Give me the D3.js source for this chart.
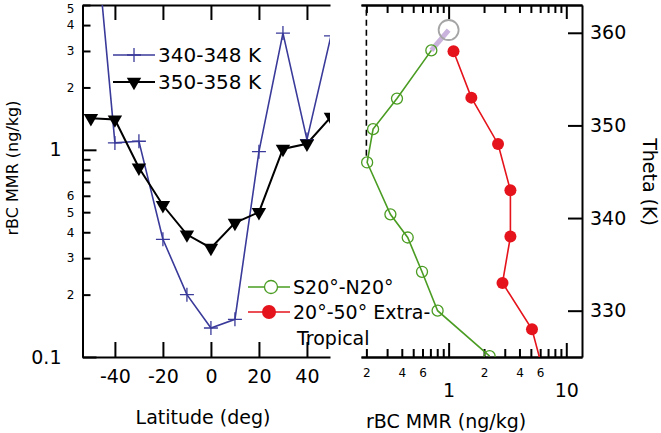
<!DOCTYPE html>
<html><head><meta charset="utf-8">
<script src="https://cdn.jsdelivr.net/npm/d3@7"></script>
<style>body{margin:0;background:#fff}svg{display:block}text{font-family:"DejaVu Sans",Verdana,sans-serif;fill:#000}</style>
</head><body><svg id="c" width="661" height="433"></svg>
<script>
// ---- Data ----
const latitudes = [-50,-40,-30,-20,-10,0,10,20,30,40,50];
const mmr340 = [20,1.08,1.1,0.37,0.2,0.138,0.152,0.98,3.66,1.12,3.55];
const mmr350 = [1.42,1.40,0.82,0.54,0.39,0.336,0.444,0.50,1.01,1.07,1.44];
const thetaTrop = [325.1,330,334.2,337.9,340.4,346,349.6,352.9,358.1];
const mmrTrop = [2.23,0.806,0.594,0.449,0.32,0.203,0.228,0.364,0.713];
const thetaExtra = [358,353,348,343,338,333,328,323];
const mmrExtra = [1.10,1.56,2.63,3.35,3.35,2.87,5.11,6.5];
const highPoint = {theta:360.3, mmr:1.0};
const latTicks = [-40,-20,0,20,40];
const leftMajor = [0.1,1];
const leftMinor = [0.2,0.3,0.4,0.5,0.6,0.7,0.8,0.9,2,3,4,5];
const leftMinorLabels = [0.2,0.3,0.4,0.5,0.6,2,3,4,5];
const rightMajor = [1,10];
const rightMinor = [0.2,0.3,0.4,0.5,0.6,0.7,0.8,0.9,2,3,4,5,6,7,8,9];
const rightMinorLabels = [0.2,0.4,0.6,2,4,6];
const thetaTicks = [330,340,350,360];
const seriesNames = ["340-348 K","350-358 K","S20°-N20°","20°-50° Extra-","Tropical"];

const svg = d3.select("#c");
const FS = 19, FSs = 12;
const blue="#3a3a9a", green="#4a9c22", red="#e5131b";

// ---- Scales ----
const xL = d3.scaleLinear().domain([-53.5,49.6]).range([82.5,330]);
const yL = d3.scaleLog().domain([0.1,5]).range([357,5]);
const xR = d3.scaleLog().domain([0.18,13.6]).range([361,582]);
const yR = d3.scaleLinear().domain([325,363]).range([357,5]);

const defs = svg.append("defs");
defs.append("clipPath").attr("id","clipL").append("rect").attr("x",82.5).attr("y",5).attr("width",330-82.5).attr("height",352);
defs.append("clipPath").attr("id","clipR").append("rect").attr("x",361).attr("y",5).attr("width",221).attr("height",352);

function styleAxis(g, fs){
  g.selectAll("path.domain").attr("stroke","#000").attr("stroke-width",2);
  g.selectAll(".tick line").attr("stroke","#000").attr("stroke-width",2);
  g.selectAll(".tick text").style("font-size",fs+"px").attr("font-family",null);
  g.attr("font-family",null).attr("font-size",null);
}
const minorFmt = d => { const e=Math.floor(Math.log10(d)+1e-9); return String(Math.round(d/Math.pow(10,e))); };

// ---- Left panel axes ----
let g;
g = svg.append("g").attr("transform","translate(82.5,0)")
  .call(d3.axisLeft(yL).tickValues(leftMinor).tickSizeInner(-8).tickSizeOuter(0).tickPadding(8)
    .tickFormat(d => leftMinorLabels.includes(d) ? minorFmt(d) : ""));
styleAxis(g, FSs);
g.selectAll(".tick text").filter(d => d===5).attr("dy","0.62em");
g = svg.append("g").attr("transform","translate(82.5,0)")
  .call(d3.axisLeft(yL).tickValues(leftMajor).tickSizeInner(-14).tickSizeOuter(0).tickPadding(21)
    .tickFormat(d => d===1 ? "1" : "0.1"));
styleAxis(g, FS);
g = svg.append("g").attr("transform","translate(0,357)")
  .call(d3.axisBottom(xL).tickValues(latTicks).tickSizeInner(-15).tickSizeOuter(0).tickPadding(13));
styleAxis(g, FS);
g.selectAll(".tick text").text(d => d<0 ? "-"+Math.abs(d) : d);
g = svg.append("g").attr("transform","translate(0,5)")
  .call(d3.axisTop(xL).tickValues(latTicks).tickSizeInner(-15).tickSizeOuter(0).tickFormat(""));
styleAxis(g, FS);

// ---- Right panel axes ----
g = svg.append("g").attr("transform","translate(0,357)")
  .call(d3.axisBottom(xR).tickValues(rightMinor).tickSizeInner(-8).tickSizeOuter(0).tickPadding(11)
    .tickFormat(d => rightMinorLabels.includes(d) ? minorFmt(d) : ""));
styleAxis(g, FSs);
g = svg.append("g").attr("transform","translate(0,357)")
  .call(d3.axisBottom(xR).tickValues(rightMajor).tickSizeInner(-14).tickSizeOuter(0).tickPadding(27)
    .tickFormat(d => String(d)));
styleAxis(g, FS);
g = svg.append("g").attr("transform","translate(0,5)")
  .call(d3.axisTop(xR).tickValues(rightMinor).tickSizeInner(-8).tickSizeOuter(0).tickFormat(""));
styleAxis(g, FS);
g = svg.append("g").attr("transform","translate(0,5)")
  .call(d3.axisTop(xR).tickValues(rightMajor).tickSizeInner(-14).tickSizeOuter(0).tickFormat(""));
styleAxis(g, FS);
g = svg.append("g").attr("transform","translate(582,0)")
  .call(d3.axisRight(yR).tickValues(thetaTicks).tickSizeInner(-14).tickSizeOuter(0).tickPadding(8));
styleAxis(g, FS);

// dashed reference at 0.2
svg.append("line").attr("x1",xR(0.2)).attr("x2",xR(0.2)).attr("y1",yR(362.5)).attr("y2",yR(346.3))
  .attr("stroke","#000").attr("stroke-width",1.6).attr("stroke-dasharray","6,4");

// ---- Axis titles ----
svg.append("text").attr("transform","translate(18,168) rotate(-90)").attr("text-anchor","middle")
  .style("font-size","16px").text("rBC MMR (ng/kg)");
svg.append("text").attr("x",203).attr("y",424).attr("text-anchor","middle").style("font-size",FS+"px").text("Latitude (deg)");
svg.append("text").attr("x",446).attr("y",428).attr("text-anchor","middle").style("font-size",FS+"px").text("rBC MMR (ng/kg)");
svg.append("text").attr("transform","translate(643,182) rotate(90)").attr("text-anchor","middle")
  .style("font-size",FS+"px").text("Theta (K)");

// ---- Left panel series ----
const L = svg.append("g").attr("clip-path","url(#clipL)");
const d340 = latitudes.map((x,i)=>({x, y:mmr340[i]}));
const d350 = latitudes.map((x,i)=>({x, y:mmr350[i]}));
const lineL = d3.line().x(d=>xL(d.x)).y(d=>yL(d.y));
L.append("path").datum(d340).attr("d",lineL).attr("fill","none").attr("stroke",blue).attr("stroke-width",1.6);
L.append("path").datum(d350).attr("d",lineL).attr("fill","none").attr("stroke","#000").attr("stroke-width",2);
function plusPath(cx,cy,s){return `M${cx-s},${cy}H${cx+s}M${cx},${cy-s}V${cy+s}`;}
L.selectAll(".p340").data(d340).join("path").attr("d",d=>plusPath(xL(d.x),yL(d.y),7))
  .attr("stroke",blue).attr("stroke-width",1.3).attr("fill","none");
const tri = d3.symbol().type(d3.symbolTriangle).size(90);
L.selectAll(".t350").data(d350).join("path").attr("d",tri)
  .attr("transform",d=>`translate(${xL(d.x)},${yL(d.y)}) rotate(180)`).attr("fill","#000");

// ---- Right panel series ----
const R = svg.append("g").attr("clip-path","url(#clipR)");
const dTrop = thetaTrop.map((t,i)=>({t, v:mmrTrop[i]}));
const dExtra = thetaExtra.map((t,i)=>({t, v:mmrExtra[i]}));
const lineR = d3.line().x(d=>xR(d.v)).y(d=>yR(d.t));
const last = dTrop[dTrop.length-1];
R.append("line").attr("x1",xR(last.v)).attr("y1",yR(last.t)).attr("x2",xR(highPoint.mmr)).attr("y2",yR(highPoint.theta))
  .attr("stroke","#c9b3dc").attr("stroke-width",5);
R.append("circle").attr("cx",xR(highPoint.mmr)).attr("cy",yR(highPoint.theta)).attr("r",10)
  .attr("fill","none").attr("stroke","#a5a5a5").attr("stroke-width",1.8);
R.append("path").datum(dTrop).attr("d",lineR).attr("fill","none").attr("stroke",green).attr("stroke-width",1.6);
R.append("path").datum(dExtra).attr("d",lineR).attr("fill","none").attr("stroke",red).attr("stroke-width",1.6);
R.selectAll(".ct").data(dTrop).join("circle").attr("cx",d=>xR(d.v)).attr("cy",d=>yR(d.t)).attr("r",5.5)
  .attr("fill","none").attr("stroke",green).attr("stroke-width",1.3);
R.selectAll(".ce").data(dExtra).join("circle").attr("cx",d=>xR(d.v)).attr("cy",d=>yR(d.t)).attr("r",6)
  .attr("fill",red);

// ---- Legends ----
const lg = svg.append("g");
lg.append("line").attr("x1",113).attr("x2",155).attr("y1",55).attr("y2",55).attr("stroke",blue).attr("stroke-width",1.6);
lg.append("path").attr("d",plusPath(134,55,7)).attr("stroke",blue).attr("stroke-width",1.3);
lg.append("text").attr("x",158).attr("y",55).attr("dy","0.35em").style("font-size","20px").text(seriesNames[0]);
lg.append("line").attr("x1",113).attr("x2",155).attr("y1",82).attr("y2",82).attr("stroke","#000").attr("stroke-width",2);
lg.append("path").attr("d",tri).attr("transform","translate(134,82) rotate(180)").attr("fill","#000");
lg.append("text").attr("x",158).attr("y",82).attr("dy","0.35em").style("font-size","20px").text(seriesNames[1]);

lg.append("line").attr("x1",248).attr("x2",290).attr("y1",287).attr("y2",287).attr("stroke",green).attr("stroke-width",1.6);
lg.append("circle").attr("cx",271).attr("cy",287).attr("r",6.5).attr("fill","#fff").attr("stroke",green).attr("stroke-width",1.3);
lg.append("text").attr("x",293).attr("y",287).attr("dy","0.35em").style("font-size",FS+"px").text(seriesNames[2]);
lg.append("line").attr("x1",248).attr("x2",290).attr("y1",312).attr("y2",312).attr("stroke",red).attr("stroke-width",1.6);
lg.append("circle").attr("cx",269).attr("cy",312).attr("r",7).attr("fill",red);
lg.append("text").attr("x",293).attr("y",312).attr("dy","0.35em").style("font-size",FS+"px").text(seriesNames[3]);
lg.append("text").attr("x",297).attr("y",338).attr("dy","0.35em").style("font-size",FS+"px").text(seriesNames[4]);
</script></body></html>
